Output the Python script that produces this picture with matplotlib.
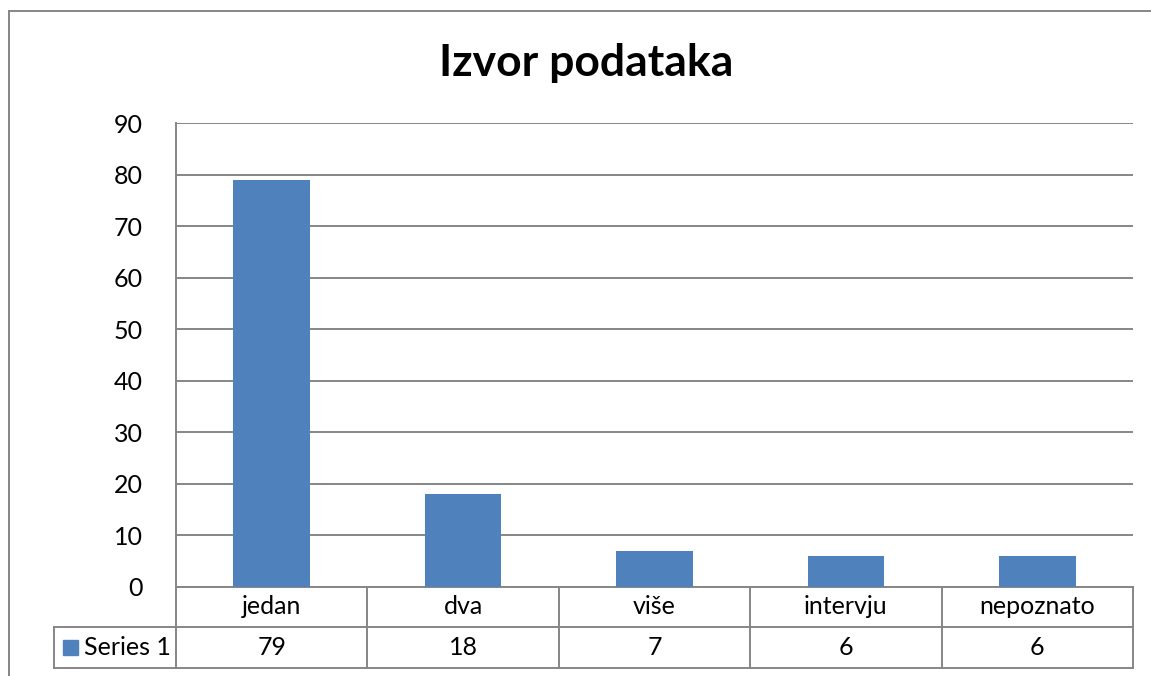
import matplotlib.pyplot as plt
from matplotlib.lines import Line2D
from matplotlib.patches import Rectangle

plt.rcParams['font.family'] = ['Lato', 'DejaVu Sans']

kategorije = ['jedan', 'dva', 'više', 'intervju', 'nepoznato']
vrijednosti = [79, 18, 7, 6, 6]
serija = 'Series 1'

PLAVA = '#4F81BD'
SIVA = '#868686'

fig = plt.figure(figsize=(11.51, 6.76), dpi=100)
ax = fig.add_axes([176 / 1151, 1 - 587 / 676, 957 / 1151, 464 / 676])

x = range(len(kategorije))
ax.bar(x, vrijednosti, width=0.4, color=PLAVA, zorder=3)
ax.set_xlim(-0.5, len(kategorije) - 0.5)
ax.set_ylim(0, 90)
ax.set_yticks(range(0, 91, 10))
ax.tick_params(axis='y', length=0, pad=24, labelsize=18)
ax.set_xticks([])
ax.grid(axis='y', color=SIVA, linewidth=1.4, zorder=0)
for s in ['top', 'right', 'bottom']:
    ax.spines[s].set_visible(False)
ax.spines['left'].set_color(SIVA)
ax.spines['left'].set_linewidth(1.4)

# tablica podataka ispod grafa
tr = ax.get_xaxis_transform()
h = 40 / 464
y1, y2 = -h, -81 / 464
lk = dict(color=SIVA, linewidth=1.4, transform=tr, clip_on=False)
n = len(kategorije)
ax.add_line(Line2D([-0.5, n - 0.5], [0, 0], **lk))
ax.add_line(Line2D([-0.5, n - 0.5], [y1, y1], **lk))
ax.add_line(Line2D([-0.5, n - 0.5], [y2, y2], **lk))
for i in range(n + 1):
    ax.add_line(Line2D([i - 0.5, i - 0.5], [0, y2], **lk))
for i, (k, v) in enumerate(zip(kategorije, vrijednosti)):
    ax.text(i, y1 / 2, k, transform=tr, ha='center', va='center', fontsize=18)
    ax.text(i, (y1 + y2) / 2, str(v), transform=tr, ha='center', va='center', fontsize=18)

# celija legende
la = dict(color=SIVA, linewidth=1.4, transform=ax.transAxes, clip_on=False)
x0 = -122 / 957
ax.add_line(Line2D([x0, 0], [y1, y1], **la))
ax.add_line(Line2D([x0, 0], [y2, y2], **la))
ax.add_line(Line2D([x0, x0], [y1, y2], **la))
ax.add_patch(Rectangle((x0 + 9 / 957, (y1 + y2) / 2 - 7.5 / 464), 15 / 957, 15 / 464,
                       transform=ax.transAxes, color=PLAVA, clip_on=False))
ax.text(x0 + 30 / 957, (y1 + y2) / 2, serija, transform=ax.transAxes,
        ha='left', va='center', fontsize=18)

fig.text(586 / 1151, 1 - 63 / 676, 'Izvor podataka', ha='center', va='center',
         fontsize=32, fontweight='bold')

# okvir grafa
fig.add_artist(Line2D([9 / 1151, 9 / 1151], [0, 1 - 11 / 676], color=SIVA, linewidth=1.4))
fig.add_artist(Line2D([9 / 1151, 1], [1 - 11 / 676, 1 - 11 / 676], color=SIVA, linewidth=1.4))

fig.savefig('out.png', dpi=100, facecolor='white')
